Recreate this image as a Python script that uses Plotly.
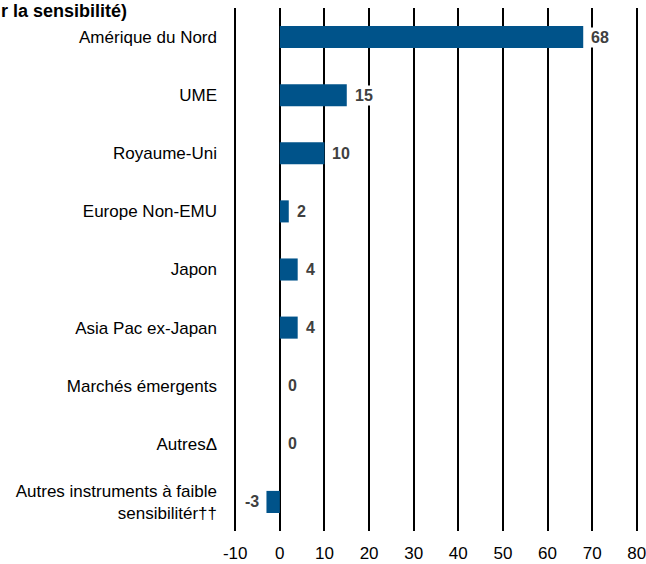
import plotly.graph_objects as go

categories = [
    "Amérique du Nord",
    "UME",
    "Royaume-Uni",
    "Europe Non-EMU",
    "Japon",
    "Asia Pac ex-Japan",
    "Marchés émergents",
    "Autres\u0394",
    "Autres instruments à faible<br>sensibilitér\u2020\u2020",
]
values = [68, 15, 10, 2, 4, 4, 0, 0, -3]
labels = ["68", "15", "10", "2", "4", "4", "0", "0", "-3"]
x_ticks = [-10, 0, 10, 20, 30, 40, 50, 60, 70, 80]
x_tick_text = ["-10", "0", "10", "20", "30", "40", "50", "60", "70", "80"]
title_text = "r la sensibilité)"

BAR = "#00538A"
FONT = "Liberation Sans, Arial, sans-serif"

fig = go.Figure()
fig.add_trace(go.Bar(
    y=categories, x=values, orientation="h",
    marker=dict(color=BAR, line=dict(width=0)),
    hoverinfo="skip",
))

annotations = []
for c, v, t in zip(categories, values, labels):
    if v < 0:
        annotations.append(dict(x=v, y=c, xref="x", yref="y", text=t, showarrow=False,
                                xanchor="right", xshift=-5, bgcolor="white",
                                font=dict(family=FONT, size=16, color="#404040", weight="bold")))
    else:
        annotations.append(dict(x=v, y=c, xref="x", yref="y", text=t, showarrow=False,
                                xanchor="left", xshift=6, bgcolor="white",
                                font=dict(family=FONT, size=16, color="#404040", weight="bold")))

annotations.append(dict(x=0, y=1, xref="paper", yref="paper", text=title_text, showarrow=False,
                        xanchor="left", yanchor="top", xshift=-234, yshift=9,
                        font=dict(family=FONT, size=18, color="black", weight="bold")))

fig.update_layout(
    width=646, height=564,
    margin=dict(l=233, r=7, t=8, b=33),
    paper_bgcolor="white", plot_bgcolor="white",
    showlegend=False,
    bargap=0.62,
    font=dict(family=FONT, size=17, color="black"),
    annotations=annotations,
    xaxis=dict(range=[-10.5, 80.5], tickvals=x_ticks, ticktext=x_tick_text,
               showgrid=True, gridcolor="black", gridwidth=1.5,
               zeroline=True, zerolinecolor="black", zerolinewidth=1.5, showline=False,
               ticks="", ticklabelstandoff=10, automargin=False, ticklabeloverflow="allow",
               tickfont=dict(size=17, color="black")),
    yaxis=dict(categoryorder="array", categoryarray=categories, autorange="reversed",
               showgrid=False, zeroline=False, showline=False, ticks="", automargin=False,
               ticklabelstandoff=15, tickfont=dict(size=17, color="black")),
)

fig.write_html("out.html", config={"displayModeBar": False},
               post_script="document.body.style.margin='0';")
